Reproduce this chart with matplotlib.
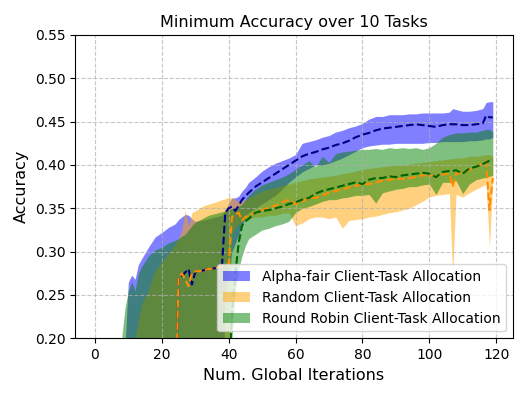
import matplotlib
matplotlib.use("Agg")
from matplotlib import pyplot as plt

iters = [0, 4, 7, 8, 9, 10, 11, 12, 13, 14,
         16, 18, 20, 22, 24,
         25, 26, 27, 28, 29, 30,
         32, 34, 36, 38,
         39, 40, 41, 42, 43, 44, 45,
         46, 48, 50, 52, 54, 56, 58, 60,
         62, 64, 66, 68, 70, 72, 74, 76, 78, 80,
         82, 84, 86, 88, 90, 92, 94, 96, 98, 100,
         102, 104, 106, 107, 108, 110, 112, 114, 116, 117, 118, 119]

# Alpha-fair
alpha_mean = [0.10, 0.10, 0.10, 0.10, 0.10, 0.10, 0.10, 0.10, 0.10, 0.10,
              0.10, 0.10, 0.10, 0.10, 0.10,
              0.270, 0.272, 0.276, 0.280, 0.262, 0.276,
              0.278, 0.280, 0.281, 0.283,
              0.345, 0.350, 0.352, 0.347, 0.353, 0.360, 0.364,
              0.368, 0.375, 0.380, 0.385, 0.390, 0.395, 0.400, 0.405,
              0.410, 0.413, 0.415, 0.418, 0.420, 0.423, 0.425, 0.428, 0.432, 0.435,
              0.437, 0.440, 0.442, 0.443, 0.444, 0.445, 0.446, 0.447, 0.446, 0.445,
              0.444, 0.446, 0.447, 0.447, 0.447, 0.446, 0.446, 0.447, 0.448, 0.457, 0.455, 0.455]
alpha_low = [0.10, 0.10, 0.10, 0.10, 0.10, 0.10, 0.10, 0.10, 0.10, 0.10,
             0.10, 0.10, 0.10, 0.10, 0.10,
             0.10, 0.10, 0.10, 0.10, 0.10, 0.10,
             0.10, 0.10, 0.10, 0.10,
             0.25, 0.28, 0.30, 0.31, 0.32, 0.33, 0.34,
             0.345, 0.350, 0.355, 0.360, 0.365, 0.372, 0.380, 0.386,
             0.392, 0.396, 0.400, 0.400, 0.402, 0.405, 0.408, 0.412, 0.416, 0.420,
             0.422, 0.423, 0.424, 0.424, 0.425, 0.425, 0.425, 0.425, 0.425, 0.426,
             0.426, 0.427, 0.427, 0.427, 0.427, 0.427, 0.428, 0.428, 0.429, 0.430, 0.430, 0.432]
alpha_high = [0.10, 0.10, 0.10, 0.10, 0.19, 0.265, 0.273, 0.268, 0.285, 0.292,
              0.305, 0.317, 0.322, 0.328, 0.332,
              0.337, 0.340, 0.343, 0.342, 0.338, 0.335,
              0.336, 0.338, 0.340, 0.342,
              0.348, 0.356, 0.362, 0.362, 0.364, 0.370, 0.374,
              0.380, 0.386, 0.393, 0.398, 0.402, 0.405, 0.408, 0.412,
              0.425, 0.427, 0.429, 0.432, 0.434, 0.438, 0.440, 0.443, 0.445, 0.448,
              0.453, 0.456, 0.456, 0.458, 0.458, 0.458, 0.459, 0.459, 0.460, 0.460,
              0.460, 0.460, 0.461, 0.465, 0.464, 0.462, 0.462, 0.463, 0.465, 0.472, 0.473, 0.473]

# Random
random_mean = [0.10, 0.10, 0.10, 0.10, 0.10, 0.10, 0.10, 0.10, 0.10, 0.10,
               0.10, 0.10, 0.10, 0.10, 0.10,
               0.270, 0.275, 0.268, 0.260, 0.275, 0.277,
               0.278, 0.280, 0.281, 0.283,
               0.284, 0.285, 0.340, 0.343, 0.345, 0.336, 0.340,
               0.342, 0.345, 0.348, 0.351, 0.353, 0.357, 0.360, 0.355,
               0.358, 0.362, 0.362, 0.365, 0.368, 0.370, 0.372, 0.374, 0.376, 0.378,
               0.378, 0.380, 0.382, 0.383, 0.384, 0.384, 0.385, 0.386, 0.388, 0.388,
               0.387, 0.389, 0.390, 0.375, 0.390, 0.391, 0.394, 0.398, 0.402, 0.404, 0.348, 0.385]
random_low = [0.10, 0.10, 0.10, 0.10, 0.10, 0.10, 0.10, 0.10, 0.10, 0.10,
              0.10, 0.10, 0.10, 0.10, 0.10,
              0.10, 0.10, 0.10, 0.10, 0.10, 0.10,
              0.10, 0.10, 0.10, 0.10,
              0.10, 0.15, 0.320, 0.328, 0.332, 0.335, 0.337,
              0.338, 0.340, 0.340, 0.342, 0.342, 0.344, 0.345, 0.330,
              0.333, 0.338, 0.340, 0.340, 0.338, 0.340, 0.327, 0.336, 0.337, 0.338,
              0.340, 0.341, 0.343, 0.345, 0.346, 0.348, 0.350, 0.354, 0.358, 0.363,
              0.365, 0.366, 0.367, 0.272, 0.366, 0.363, 0.368, 0.372, 0.376, 0.378, 0.305, 0.382]
random_high = [0.10, 0.10, 0.10, 0.10, 0.10, 0.10, 0.15, 0.20, 0.22, 0.24,
               0.255, 0.278, 0.288, 0.298, 0.308,
               0.315, 0.325, 0.348, 0.330, 0.345, 0.347,
               0.352, 0.355, 0.357, 0.360,
               0.361, 0.363, 0.362, 0.360, 0.358, 0.358, 0.360,
               0.362, 0.366, 0.370, 0.372, 0.374, 0.376, 0.378, 0.380,
               0.382, 0.384, 0.385, 0.386, 0.387, 0.388, 0.390, 0.391, 0.393, 0.395,
               0.396, 0.397, 0.398, 0.399, 0.400, 0.400, 0.401, 0.402, 0.403, 0.404,
               0.405, 0.406, 0.407, 0.407, 0.408, 0.408, 0.410, 0.410, 0.411, 0.412, 0.412, 0.410]

# Round Robin
rr_mean = [0.10, 0.10, 0.10, 0.10, 0.10, 0.10, 0.10, 0.10, 0.10, 0.10,
           0.10, 0.10, 0.10, 0.10, 0.10,
           0.10, 0.10, 0.10, 0.10, 0.10, 0.10,
           0.10, 0.10, 0.10, 0.10,
           0.10, 0.15, 0.230, 0.275, 0.310, 0.330, 0.335,
           0.338, 0.345, 0.347, 0.348, 0.350, 0.352, 0.355, 0.357,
           0.360, 0.362, 0.367, 0.370, 0.372, 0.374, 0.376, 0.378, 0.380, 0.378,
           0.383, 0.385, 0.385, 0.387, 0.386, 0.388, 0.389, 0.390, 0.391, 0.390,
           0.386, 0.392, 0.393, 0.393, 0.394, 0.390, 0.396, 0.398, 0.401, 0.403, 0.405, 0.406]
rr_low = [0.10, 0.10, 0.10, 0.10, 0.10, 0.10, 0.10, 0.10, 0.10, 0.10,
          0.10, 0.10, 0.10, 0.10, 0.10,
          0.10, 0.10, 0.10, 0.10, 0.10, 0.10,
          0.10, 0.10, 0.10, 0.10,
          0.10, 0.12, 0.200, 0.255, 0.280, 0.295, 0.307,
          0.315, 0.320, 0.325, 0.327, 0.330, 0.332, 0.335, 0.345,
          0.350, 0.352, 0.355, 0.358, 0.360, 0.360, 0.362, 0.363, 0.365, 0.365,
          0.366, 0.356, 0.368, 0.370, 0.372, 0.373, 0.375, 0.375, 0.377, 0.378,
          0.366, 0.380, 0.380, 0.381, 0.382, 0.367, 0.378, 0.383, 0.385, 0.386, 0.387, 0.388]
rr_high = [0.10, 0.10, 0.12, 0.20, 0.235, 0.255, 0.265, 0.255, 0.275, 0.283,
           0.295, 0.302, 0.305, 0.310, 0.313,
           0.315, 0.318, 0.320, 0.325, 0.330, 0.334,
           0.338, 0.342, 0.344, 0.346,
           0.347, 0.348, 0.350, 0.351, 0.352, 0.355, 0.360,
           0.365, 0.372, 0.377, 0.380, 0.383, 0.386, 0.390, 0.395,
           0.400, 0.405, 0.398, 0.410, 0.403, 0.413, 0.415, 0.416, 0.417, 0.418,
           0.418, 0.419, 0.418, 0.420, 0.419, 0.420, 0.419, 0.420, 0.418, 0.420,
           0.425, 0.432, 0.435, 0.436, 0.437, 0.437, 0.438, 0.438, 0.440, 0.441, 0.441, 0.438]

fig, ax = plt.subplots(figsize=(5.26, 3.95), dpi=100)
fig.subplots_adjust(left=0.1426, right=0.9747, bottom=0.1435, top=0.9114)

ax.fill_between(iters, alpha_low, alpha_high, color='blue', alpha=0.5,
                linewidth=0, label='Alpha-fair Client-Task Allocation')
ax.plot(iters, alpha_mean, color='navy', linestyle='--', linewidth=1.5)

ax.fill_between(iters, random_low, random_high, color='orange', alpha=0.5,
                linewidth=0, label='Random Client-Task Allocation')
ax.plot(iters, random_mean, color='darkorange', linestyle='--', linewidth=1.5)

ax.fill_between(iters, rr_low, rr_high, color='green', alpha=0.5,
                linewidth=0, label='Round Robin Client-Task Allocation')
ax.plot(iters, rr_mean, color='darkgreen', linestyle='--', linewidth=1.5)

ax.set_ylim(0.2, 0.55)
ax.set_xticks([0, 20, 40, 60, 80, 100, 120])
ax.grid(True, linestyle='--', alpha=0.7)
ax.set_title('Minimum Accuracy over 10 Tasks', fontsize=11.5)
ax.set_xlabel('Num. Global Iterations', fontsize=11.5)
ax.set_ylabel('Accuracy', fontsize=11.5)
ax.legend(loc='lower right')

plt.savefig('out.png', dpi=100)
